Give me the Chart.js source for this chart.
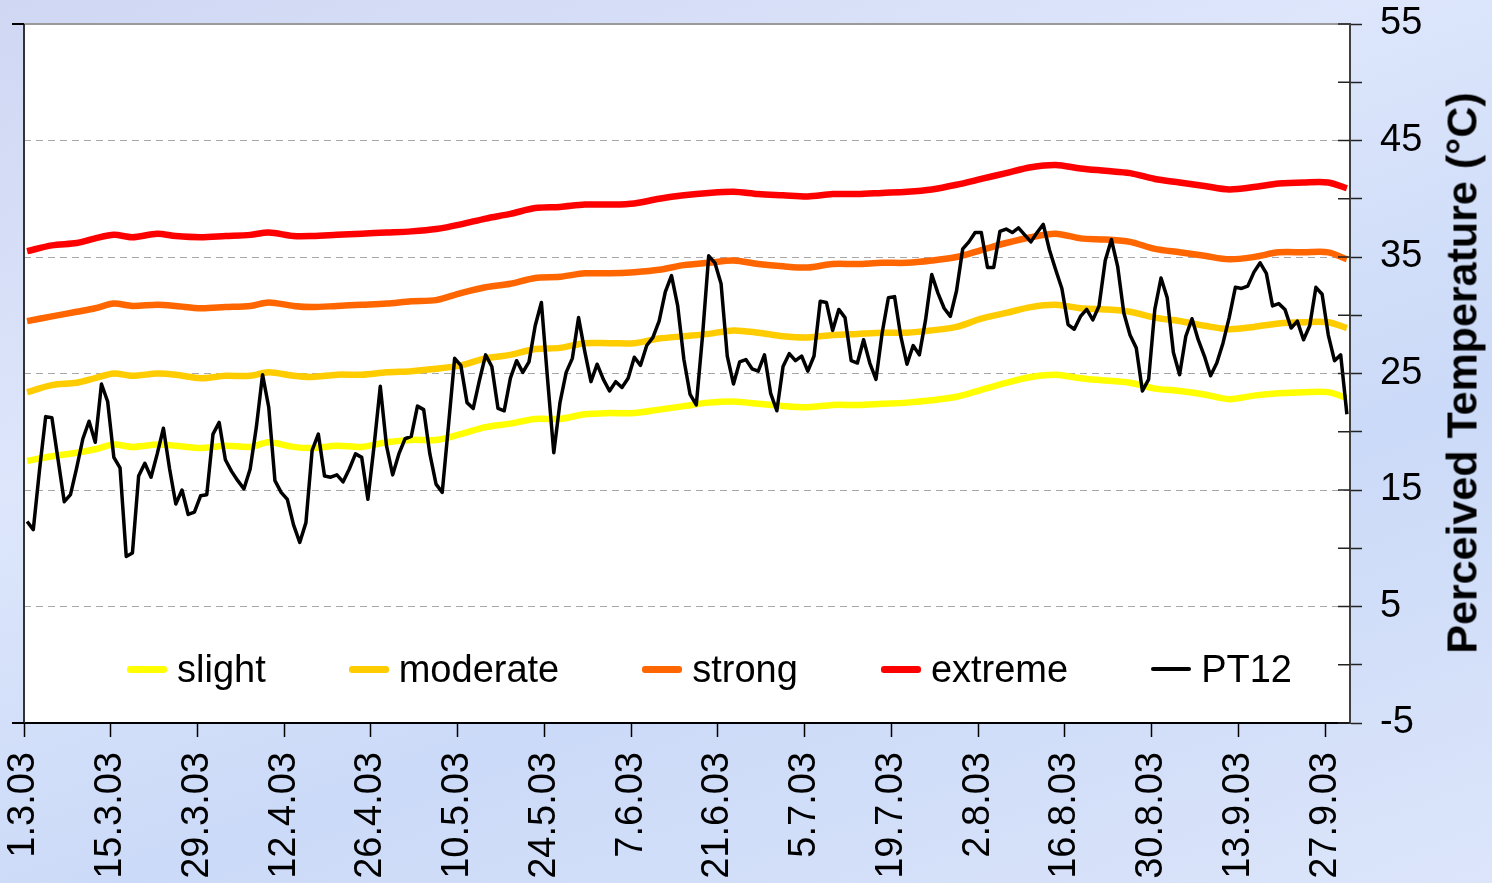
<!DOCTYPE html>
<html>
<head>
<meta charset="utf-8">
<title>Perceived Temperature PT12 2003</title>
<script src="https://cdn.jsdelivr.net/npm/chart.js@4.4.1/dist/chart.umd.min.js"></script>
<style>
  html, body { margin: 0; padding: 0; overflow: hidden; }
  body {
    width: 1492px; height: 883px;
    background: linear-gradient(160deg, #cfd7f3 0%, #dde6fb 35%, #cbdaf8 65%, #dce5fa 100%);
    font-family: "Liberation Sans", Arial, sans-serif;
  }
  #wrap { position: relative; width: 1492px; height: 883px; }
  #legend {
    position: absolute; left: 127px; top: 650px;
    display: flex; align-items: center; gap: 83px;
    font-size: 38px; line-height: 38px; color: #000;
  }
  .leg-item { display: flex; align-items: center; }
  .leg-line { width: 40px; margin-right: 10px; border-radius: 3px; }
  #yTitle {
    position: absolute; left: 1462px; top: 373px;
    transform: translate(-50%, -50%) rotate(-90deg);
    white-space: nowrap; font-weight: bold; font-size: 43px; color: #000;
  }
</style>
</head>
<body>
<div id="wrap">
  <canvas id="ptChart"></canvas>
  <div id="legend"></div>
  <div id="yTitle">Perceived Temperature (°C)</div>
</div>
<script>
// ---- Axis ticks (day index from 1.3.03) ----
const tickDays = [0, 14, 28, 42, 56, 70, 84, 98, 112, 126, 140, 154, 168, 182, 196, 210];
const tickLabels = ['1.3.03', '15.3.03', '29.3.03', '12.4.03', '26.4.03', '10.5.03', '24.5.03', '7.6.03',
  '21.6.03', '5.7.03', '19.7.03', '2.8.03', '16.8.03', '30.8.03', '13.9.03', '27.9.03'];
const yTicks = [-5, 0, 5, 10, 15, 20, 25, 30, 35, 40, 45, 50, 55];

// ---- Threshold curves, sampled on these days ----
const thresholdDays = [0, 4, 8, 11, 14, 17, 21, 24, 28, 32, 36, 39, 43, 46, 50, 54, 58, 62, 66, 70,
  74, 78, 82, 86, 90, 94, 98, 102, 106, 110, 114, 118, 122, 126, 130, 134, 138, 142, 146, 150,
  154, 158, 162, 166, 170, 174, 178, 182, 186, 190, 194, 198, 202, 206, 210, 213];

const slight = [17.5, 17.9, 18.2, 18.5, 18.9, 18.7, 18.9, 18.8, 18.6, 18.8, 18.7, 19.1, 18.7, 18.6, 18.8, 18.7, 19.1, 19.3, 19.3, 19.8,
  20.4, 20.7, 21.1, 21.1, 21.5, 21.6, 21.6, 21.9, 22.2, 22.5, 22.6, 22.4, 22.2, 22.1, 22.3, 22.3, 22.4, 22.5, 22.7, 23.0,
  23.6, 24.2, 24.7, 24.9, 24.6, 24.4, 24.2, 23.7, 23.5, 23.2, 22.8, 23.1, 23.3, 23.4, 23.4, 22.9];

const moderate = [23.4, 24.0, 24.2, 24.6, 25.0, 24.8, 25.0, 24.9, 24.6, 24.8, 24.8, 25.1, 24.8, 24.7, 24.9, 24.9, 25.1, 25.2, 25.4, 25.7,
  26.3, 26.6, 27.1, 27.2, 27.6, 27.6, 27.6, 28.0, 28.2, 28.4, 28.7, 28.5, 28.2, 28.1, 28.3, 28.4, 28.5, 28.5, 28.7, 29.0,
  29.7, 30.2, 30.7, 30.9, 30.6, 30.5, 30.3, 29.8, 29.5, 29.1, 28.8, 29.0, 29.3, 29.4, 29.4, 28.9];

const strong = [29.5, 29.9, 30.3, 30.6, 31.0, 30.8, 30.9, 30.8, 30.6, 30.7, 30.8, 31.1, 30.8, 30.7, 30.8, 30.9, 31.0, 31.2, 31.3, 31.9,
  32.4, 32.7, 33.2, 33.3, 33.6, 33.6, 33.7, 33.9, 34.3, 34.5, 34.7, 34.4, 34.2, 34.1, 34.4, 34.4, 34.5, 34.5, 34.7, 35.0,
  35.6, 36.2, 36.7, 37.0, 36.6, 36.5, 36.3, 35.7, 35.4, 35.1, 34.8, 35.0, 35.4, 35.4, 35.4, 34.8];

const extreme = [35.5, 36.0, 36.2, 36.6, 36.9, 36.7, 37.0, 36.8, 36.7, 36.8, 36.9, 37.1, 36.8, 36.8, 36.9, 37.0, 37.1, 37.2, 37.4, 37.8,
  38.3, 38.7, 39.2, 39.3, 39.5, 39.5, 39.6, 40.0, 40.3, 40.5, 40.6, 40.4, 40.3, 40.2, 40.4, 40.4, 40.5, 40.6, 40.8, 41.2,
  41.7, 42.2, 42.7, 42.9, 42.6, 42.4, 42.2, 41.7, 41.4, 41.1, 40.8, 41.0, 41.3, 41.4, 41.4, 40.9];

// ---- PT12 daily values, 1.3.03 .. 30.9.03 ----
const pt12 = [
  12.3, 11.6, 16.7, 21.3, 21.2, 17.6, 14.0, 14.6, 16.9, 19.4, 20.9, 19.1, 24.1, 22.6, 17.8, 16.9, 9.3, 9.6, 16.2, 17.3,
  16.1, 18.1, 20.3, 16.8, 13.8, 15.0, 12.9, 13.1, 14.5, 14.6, 19.8, 20.8, 17.6, 16.6, 15.8, 15.1, 16.8, 20.4, 24.9, 22.1,
  15.8, 14.8, 14.2, 12.0, 10.5, 12.2, 18.4, 19.8, 16.2, 16.1, 16.3, 15.7, 16.8, 18.1, 17.8, 14.2, 18.8, 23.9, 18.8, 16.3,
  18.1, 19.4, 19.6, 22.2, 21.9, 18.1, 15.5, 14.8, 20.5, 26.3, 25.7, 22.5, 22.0, 24.4, 26.6, 25.6, 22.0, 21.8, 24.6, 26.1,
  25.1, 26.0, 29.1, 31.1, 24.5, 18.2, 22.5, 25.1, 26.3, 29.8, 26.9, 24.3, 25.8, 24.5, 23.5, 24.3, 23.8, 24.6, 26.4, 25.7,
  27.4, 28.1, 29.5, 32.0, 33.4, 30.8, 26.2, 23.2, 22.3, 28.2, 35.1, 34.5, 32.7, 26.5, 24.1, 26.0, 26.2, 25.4, 25.2, 26.6,
  23.3, 21.8, 25.6, 26.7, 26.1, 26.5, 25.2, 26.5, 31.2, 31.1, 28.7, 30.5, 29.8, 26.1, 25.9, 27.9, 25.9, 24.5, 28.5, 31.5,
  31.6, 28.2, 25.8, 27.4, 26.6, 29.6, 33.5, 31.9, 30.6, 29.9, 32.1, 35.7, 36.3, 37.1, 37.1, 34.1, 34.1, 37.2, 37.4, 37.1,
  37.5, 36.9, 36.3, 37.1, 37.8, 35.6, 33.9, 32.3, 29.2, 28.8, 29.9, 30.5, 29.6, 30.8, 34.7, 36.5, 34.2, 30.2, 28.3, 27.2,
  23.5, 24.5, 30.5, 33.2, 31.5, 26.8, 24.9, 28.2, 29.7, 27.9, 26.5, 24.8, 25.9, 27.6, 29.8, 32.4, 32.3, 32.5, 33.7, 34.5,
  33.6, 30.8, 31.0, 30.5, 28.9, 29.5, 27.9, 29.1, 32.4, 31.8, 28.3, 26.1, 26.6, 21.5
];

// ---- Helpers ----
const onDays = (vals) => vals.map((v, i) => ({ x: thresholdDays[i], y: v }));
const labelled = (v) => (v + 5) % 10 === 0;

Chart.defaults.font.family = '"Liberation Sans", Arial, sans-serif';
Chart.defaults.color = '#000';

// white plot area, top/left frame and the inner half of the right-axis ticks
const plotFrame = {
  id: 'plotFrame',
  beforeDraw(chart) {
    const { ctx, chartArea: a } = chart;
    ctx.save();
    ctx.fillStyle = '#fff';
    ctx.fillRect(a.left, a.top, a.right - a.left, a.bottom - a.top);
    ctx.restore();
  },
  afterDraw(chart) {
    const { ctx, chartArea: a } = chart;
    const y = chart.scales.y;
    ctx.save();
    ctx.lineWidth = 2;
    ctx.strokeStyle = '#9a9a9a';
    ctx.beginPath(); ctx.moveTo(a.left, a.top); ctx.lineTo(a.right, a.top); ctx.stroke();
    ctx.strokeStyle = '#333';
    ctx.beginPath(); ctx.moveTo(a.left, a.top); ctx.lineTo(a.left, a.bottom); ctx.stroke();
    ctx.strokeStyle = '#000';
    ctx.beginPath();
    ctx.moveTo(a.left - 12, a.top); ctx.lineTo(a.left, a.top);
    ctx.moveTo(a.left - 12, a.bottom); ctx.lineTo(a.left, a.bottom);
    ctx.stroke();
    ctx.lineWidth = 1.5;
    ctx.strokeStyle = '#222';
    y.ticks.forEach(t => {
      const py = y.getPixelForValue(t.value);
      ctx.beginPath(); ctx.moveTo(a.right - 12, py); ctx.lineTo(a.right, py); ctx.stroke();
    });
    ctx.restore();
  }
};

const datasets = [
  { label: 'slight',   data: onDays(slight),   borderColor: '#ffff00', borderWidth: 6.5, tension: 0.3, order: 4 },
  { label: 'moderate', data: onDays(moderate), borderColor: '#ffcc00', borderWidth: 6.5, tension: 0.3, order: 3 },
  { label: 'strong',   data: onDays(strong),   borderColor: '#ff6600', borderWidth: 6.5, tension: 0.3, order: 2 },
  { label: 'extreme',  data: onDays(extreme),  borderColor: '#ff0000', borderWidth: 6.5, tension: 0.3, order: 1 },
  { label: 'PT12',     data: pt12.map((v, i) => ({ x: i, y: v })), borderColor: '#000', borderWidth: 3.5, tension: 0, order: 0 }
];

new Chart(document.getElementById('ptChart'), {
  type: 'line',
  data: { datasets },
  options: {
    responsive: true, maintainAspectRatio: false, animation: false,
    elements: { point: { radius: 0, hoverRadius: 0 }, line: { borderJoinStyle: 'round' } },
    layout: { padding: { left: 24, top: 24, right: 0, bottom: 0 } },
    plugins: { legend: { display: false }, tooltip: { enabled: false } },
    scales: {
      x: {
        type: 'linear', min: -0.5, max: 213.5,
        afterBuildTicks: (scale) => { scale.ticks = tickDays.map(d => ({ value: d - 0.5 })); },
        afterFit: (scale) => { scale.height = 160; scale.paddingLeft = 0; scale.paddingRight = 0; },
        ticks: {
          autoSkip: false, minRotation: 90, maxRotation: 90, padding: 15,
          font: { size: 38 }, color: '#000',
          callback: (v, i) => tickLabels[i]
        },
        grid: { drawOnChartArea: false, tickLength: 14, tickColor: '#000', tickWidth: 1.5 },
        border: { color: '#000', width: 2 }
      },
      y: {
        position: 'right', min: -5, max: 55,
        afterBuildTicks: (scale) => { scale.ticks = yTicks.map(v => ({ value: v })); },
        afterFit: (scale) => { scale.width = 142; scale.paddingTop = 0; scale.paddingBottom = 0; },
        ticks: {
          autoSkip: false, padding: 18, font: { size: 38 }, color: '#000',
          callback: (v) => (labelled(v) ? String(v) : '')
        },
        grid: {
          color: (c) => (c.tick && labelled(c.tick.value) && c.tick.value > -5 && c.tick.value < 55) ? '#a8a8a8' : 'rgba(0,0,0,0)',
          lineWidth: 1, tickLength: 12, tickColor: '#222', tickWidth: 1.5
        },
        border: { color: '#404040', width: 2, dash: [7, 5] }
      }
    }
  },
  plugins: [plotFrame]
});

// ---- Legend inside the plot area ----
const legendEl = document.getElementById('legend');
datasets.forEach(ds => {
  legendEl.innerHTML += `
    <div class="leg-item">
      <span class="leg-line" style="height:${Math.round(ds.borderWidth)}px;background:${ds.borderColor}"></span>
      <span>${ds.label}</span>
    </div>`;
});
</script>
</body>
</html>
